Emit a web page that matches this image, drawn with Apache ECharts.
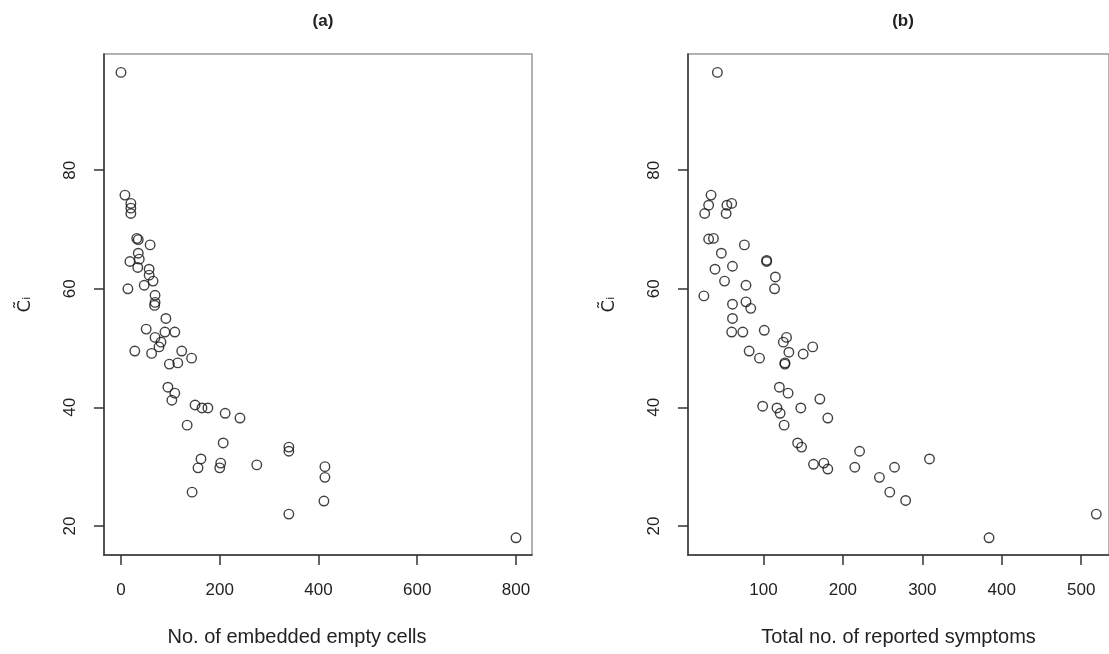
<!DOCTYPE html>
<html>
<head>
<meta charset="utf-8">
<script src="https://cdn.jsdelivr.net/npm/echarts@6/dist/echarts.min.js"></script>
<style>
  html, body { margin: 0; padding: 0; background: #fff; }
  #chart { width: 1109px; height: 654px; }
</style>
</head>
<body>
<div id="chart"></div>
<script>
// panel (a): number of embedded empty cells vs C~i
var emptyCells = [0, 8, 20, 20, 20, 32, 35, 59, 35, 18, 37, 34, 57, 57, 47, 65, 14, 69, 69, 68,
  91, 51, 89, 109, 69, 81, 77, 28, 62, 123, 143, 98, 115, 95, 109, 103, 150, 164, 176, 211,
  241, 134, 207, 340, 340, 162, 156, 202, 200, 275, 413, 413, 144, 411, 340, 800];
var ciA = [96.5, 75.8, 74.4, 73.6, 72.7, 68.5, 68.3, 67.4, 66, 64.6, 65, 63.6, 63.3, 62.3, 60.6, 61.3, 60, 58.9, 57.7, 57.2,
  55, 53.2, 52.7, 52.7, 51.8, 51, 50.2, 49.5, 49.1, 49.5, 48.3, 47.3, 47.5, 43.4, 42.4, 41.2, 40.4, 39.9, 39.9, 39,
  38.2, 37, 34, 33.3, 32.6, 31.3, 29.8, 30.6, 29.8, 30.3, 30, 28.2, 25.7, 24.2, 22, 18];

// panel (b): total number of reported symptoms vs C~i
var symptoms = [42, 34, 31, 26, 54, 60, 53, 31, 37, 76, 47, 104, 104, 39, 61, 115, 114, 51, 78, 25,
  61, 78, 84, 61, 60, 74, 101, 129, 125, 132, 150, 162, 82, 95, 127, 127, 120, 131, 171, 99,
  117, 121, 147, 181, 126, 143, 148, 221, 309, 163, 176, 181, 215, 265, 246, 259, 279, 519, 384];
var ciB = [96.5, 75.8, 74.1, 72.7, 74.1, 74.4, 72.7, 68.4, 68.5, 67.4, 66, 64.8, 64.6, 63.3, 63.8, 62, 60, 61.3, 60.6, 58.8,
  57.4, 57.8, 56.7, 55, 52.7, 52.7, 53, 51.8, 51, 49.3, 49, 50.2, 49.5, 48.3, 47.5, 47.3, 43.4, 42.4, 41.4, 40.2,
  39.9, 39, 39.9, 38.2, 37, 34, 33.3, 32.6, 31.3, 30.4, 30.6, 29.6, 29.9, 29.9, 28.2, 25.7, 24.3, 22, 18];

var xTicksA = [0, 200, 400, 600, 800];
var xTicksB = [100, 200, 300, 400, 500];
var yTicks = [20, 40, 60, 80];

function pairs(xs, ys) {
  return xs.map(function (x, i) { return [x, ys[i]]; });
}

var font = "'Liberation Sans', Arial, sans-serif";

function xAxisFor(idx, min, max, ticks, title, pad) {
  return {
    gridIndex: idx, type: 'value', min: min, max: max,
    splitLine: { show: false },
    axisLine: { show: true, onZero: false, lineStyle: { color: '#333', width: 1.5 } },
    axisTick: { show: true, length: 10, customValues: ticks, lineStyle: { color: '#333', width: 1.5 } },
    axisLabel: { customValues: ticks, margin: 27, fontSize: 17, color: '#222', fontFamily: font },
    name: title, nameLocation: 'middle', nameGap: 72,
    nameTextStyle: { fontSize: 20, color: '#222', fontFamily: font, padding: pad }
  };
}

function yAxisFor(idx) {
  return {
    gridIndex: idx, type: 'value', min: 15.1, max: 99.6,
    splitLine: { show: false },
    axisLine: { show: true, onZero: false, lineStyle: { color: '#333', width: 1.5 } },
    axisTick: { show: true, length: 10, customValues: yTicks, lineStyle: { color: '#333', width: 1.5 } },
    axisLabel: { customValues: yTicks, rotate: 90, margin: 25, fontSize: 17, color: '#222', fontFamily: font },
    name: 'C\u0303\u1D62', nameLocation: 'middle', nameRotate: 90, nameGap: 70,
    nameTextStyle: { fontSize: 18, color: '#222', fontFamily: 'DejaVu Sans' }
  };
}

var chart = echarts.init(document.getElementById('chart'));
chart.setOption({
  backgroundColor: '#fff',
  animation: false,
  title: [
    { text: '(a)', left: 318, top: 8, textAlign: 'center',
      textStyle: { fontSize: 17, fontWeight: 'bold', color: '#222', fontFamily: font } },
    { text: '(b)', left: 898, top: 8, textAlign: 'center',
      textStyle: { fontSize: 17, fontWeight: 'bold', color: '#222', fontFamily: font } }
  ],
  grid: [
    { left: 104, top: 54, width: 428, height: 501, show: true, borderColor: '#999', borderWidth: 1.5 },
    { left: 688, top: 54, width: 424, height: 501, show: true, borderColor: '#999', borderWidth: 1.5 }
  ],
  xAxis: [
    xAxisFor(0, -34.4, 832.4, xTicksA, 'No. of embedded empty cells', [0, 42, 0, 0]),
    xAxisFor(1, 5, 535, xTicksB, 'Total no. of reported symptoms', [0, 0, 0, 0])
  ],
  yAxis: [yAxisFor(0), yAxisFor(1)],
  series: [
    { type: 'scatter', xAxisIndex: 0, yAxisIndex: 0, data: pairs(emptyCells, ciA),
      symbol: 'circle', symbolSize: 9.5,
      itemStyle: { color: 'transparent', borderColor: '#111', borderWidth: 1.4 } },
    { type: 'scatter', xAxisIndex: 1, yAxisIndex: 1, data: pairs(symptoms, ciB),
      symbol: 'circle', symbolSize: 9.5,
      itemStyle: { color: 'transparent', borderColor: '#111', borderWidth: 1.4 } }
  ]
});
</script>
</body>
</html>
